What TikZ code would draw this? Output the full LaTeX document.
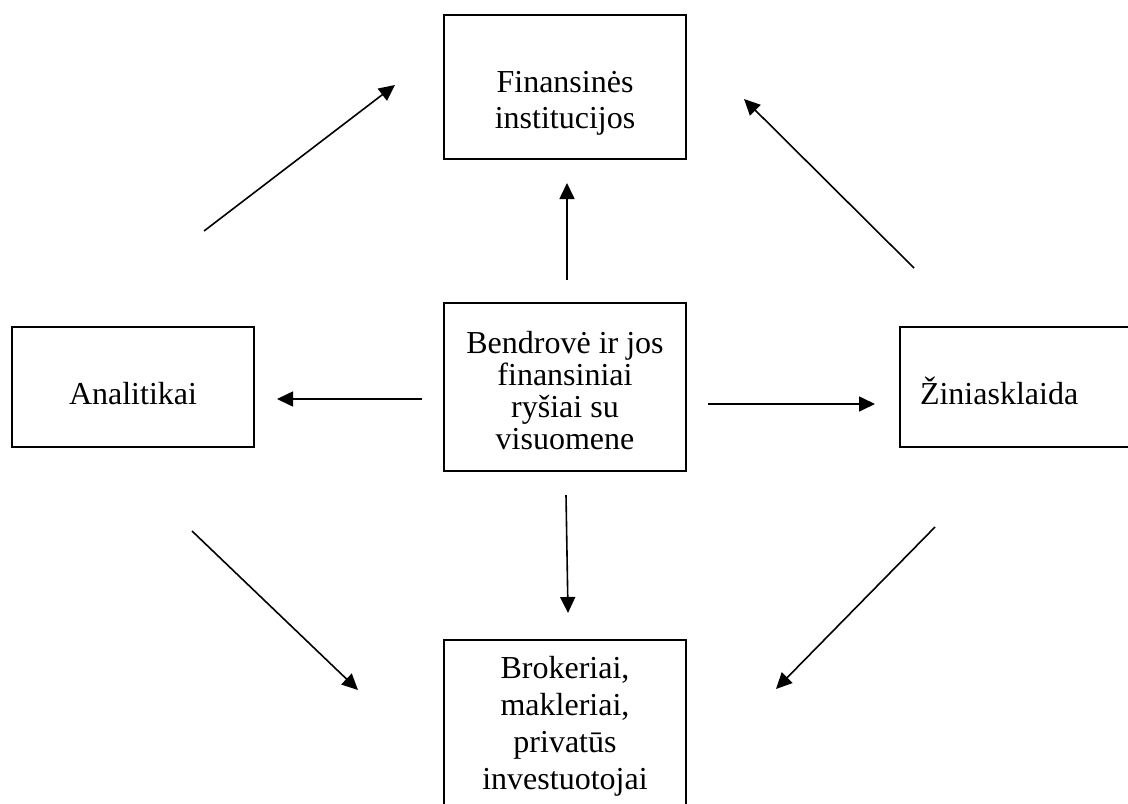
\documentclass[tikz,border=0pt]{standalone}
\usepackage{fontspec}
\setmainfont{Liberation Serif}
\usetikzlibrary{arrows.meta}

\begin{document}
\begin{tikzpicture}[
	x=0.5pt, y=-0.5pt,
	>={Triangle[length=8pt,width=7.5pt]},
	font=\fontsize{16}{18}\selectfont,
	blokas/.style={draw, line width=0.85pt, align=center, minimum width=121pt, inner sep=0pt},
	rodykle/.style={->, line width=0.8pt}
	]

			\useasboundingbox (0,0) rectangle (1128,803);
			\clip (0,0) rectangle (1128,803);

			% ================= Blokai =================
			\node[blokas, text height=56.5pt, text depth=15.5pt] (inst) at (565,87) {Finansinės\\institucijos};

			\node[
			blokas,
			font=\fontsize{16}{16}\selectfont,
			text height=73pt,
			text depth=11pt
			] (bendr) at (565,387) {Bendrovė ir jos\\finansiniai\\ryšiai su\\visuomene};

			\node[blokas, text height=38.5pt, text depth=21.5pt] (anal) at (133,387) {Analitikai};

			\node[
			blokas,
			align=left,
			text width=101pt,
			inner xsep=10pt,
			text height=38.5pt,
			text depth=21.5pt
			] (zinia) at (1021,387) {Žiniasklaida};

			\node[
			blokas,
			anchor=north,
			font=\fontsize{16}{18.5}\selectfont,
			text height=75pt,
			text depth=15.5pt
			] (brok) at (565,639) {Brokeriai,\\makleriai,\\privatūs\\investuotojai};

			% ================= Rodyklių galai =================
			\coordinate (kv1) at (204,231);
			\coordinate (kv2) at (395,85);
			\coordinate (vi1) at (567,280);
			\coordinate (vi2) at (567,183);
			\coordinate (dv1) at (914,268);
			\coordinate (dv2) at (744,99);
			\coordinate (ka1) at (422,399);
			\coordinate (ka2) at (277,399);
			\coordinate (de1) at (708,404);
			\coordinate (de2) at (875,404);
			\coordinate (ap1) at (566,495);
			\coordinate (ap2) at (568,613);
			\coordinate (ka3) at (192,531);
			\coordinate (ka4) at (358,690);
			\coordinate (da3) at (935,527);
			\coordinate (da4) at (776,689);

			% ================= Rodyklės =================
			\draw[rodykle] (kv1) -- (kv2);
			\draw[rodykle] (vi1) -- (vi2);
			\draw[rodykle] (dv1) -- (dv2);
			\draw[rodykle] (ka1) -- (ka2);
			\draw[rodykle] (de1) -- (de2);
			\draw[rodykle] (ap1) -- (ap2);
			\draw[rodykle] (ka3) -- (ka4);
			\draw[rodykle] (da3) -- (da4);

\end{tikzpicture}
\end{document}
